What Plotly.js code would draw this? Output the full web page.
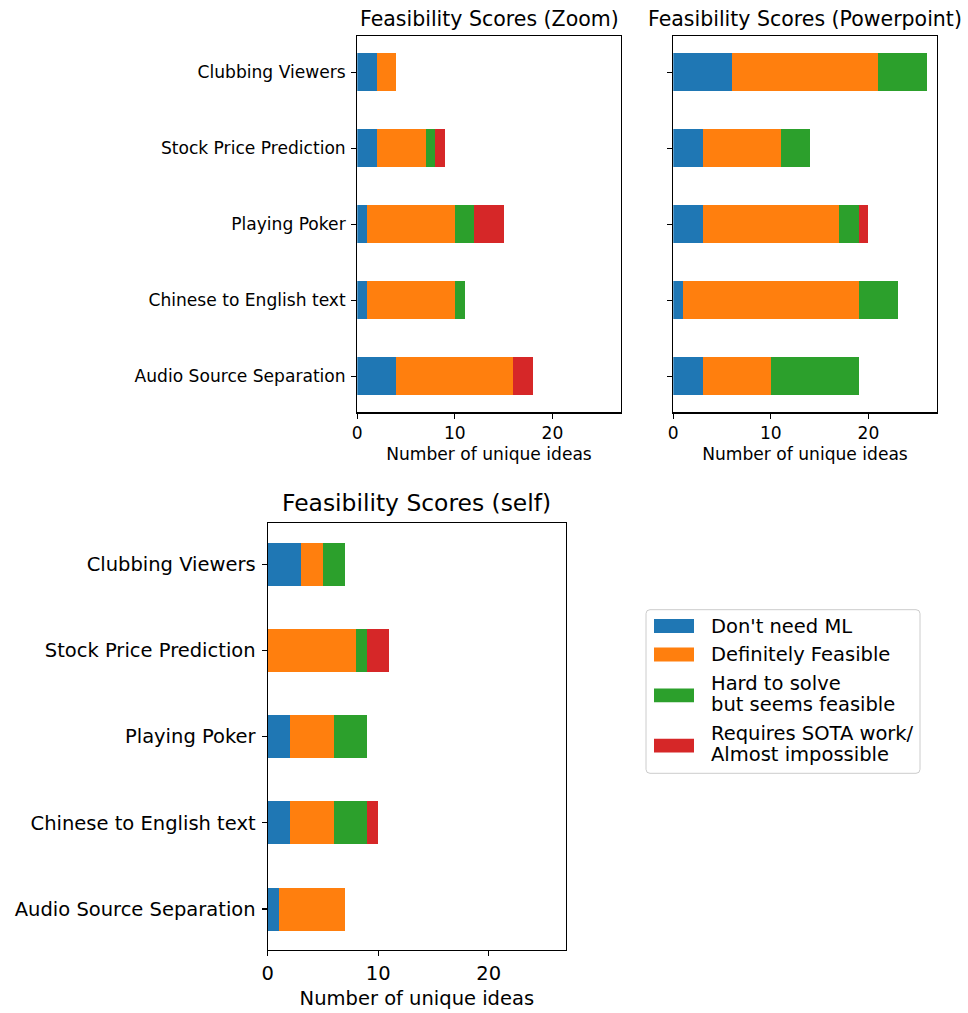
<!DOCTYPE html>
<html><head><meta charset="utf-8">
<script src="https://cdn.plot.ly/plotly-3.0.1.min.js"></script>
<style>html,body{margin:0;padding:0;background:#fff}#chart{width:968px;height:1013px}</style>
</head><body><div id="chart"></div>
<script>
// ---- data ----
const categories = ['Clubbing Viewers', 'Stock Price Prediction', 'Playing Poker', 'Chinese to English text', 'Audio Source Separation'];
const seriesNames = ["Don't need ML", 'Definitely Feasible', 'Hard to solve<br>but seems feasible', 'Requires SOTA work/<br>Almost impossible'];
const seriesColors = ['#1f77b4', '#ff7f0e', '#2ca02c', '#d62728'];
const panelTitles = ['Feasibility Scores (Zoom)', 'Feasibility Scores (Powerpoint)', 'Feasibility Scores (self)'];
const xTickVals = [0, 10, 20];
const xTitle = 'Number of unique ideas';

// values follow the order of `categories`
const zoomNoML     = [2, 2, 1, 1, 4];
const zoomFeasible = [2, 5, 9, 9, 12];
const zoomHard     = [0, 1, 2, 1, 0];
const zoomSOTA     = [0, 1, 3, 0, 2];

const pptNoML      = [6, 3, 3, 1, 3];
const pptFeasible  = [15, 8, 14, 18, 7];
const pptHard      = [5, 3, 2, 4, 9];
const pptSOTA      = [0, 0, 1, 0, 0];

const selfNoML     = [3, 0, 2, 2, 1];
const selfFeasible = [2, 8, 4, 4, 6];
const selfHard     = [2, 1, 3, 3, 0];
const selfSOTA     = [0, 2, 0, 1, 0];

// ---- build ----
const W = 968, H = 1013;
const FONT = 'DejaVu Sans, sans-serif';
const px = v => v / W;
const py = v => 1 - v / H;

const panels = [
  {series: [zoomNoML, zoomFeasible, zoomHard, zoomSOTA], xa: 'x', ya: 'y'},
  {series: [pptNoML, pptFeasible, pptHard, pptSOTA], xa: 'x2', ya: 'y2'},
  {series: [selfNoML, selfFeasible, selfHard, selfSOTA], xa: 'x3', ya: 'y3'}
];

const traces = [];
panels.forEach(p => {
  p.series.forEach((vals, s) => {
    traces.push({
      type: 'bar', orientation: 'h',
      y: categories, x: vals,
      xaxis: p.xa, yaxis: p.ya,
      name: seriesNames[s],
      marker: {color: seriesColors[s], line: {width: 0}},
      width: 0.5, showlegend: false, hoverinfo: 'x+y+name'
    });
  });
});

const catOrder = categories.slice().reverse();

function xAxis(domain, anchor, fs, standoff) {
  return {
    domain: domain, anchor: anchor, range: [0, 27], tickvals: xTickVals,
    ticks: 'outside', ticklen: 5, tickwidth: 1.2, tickcolor: '#000',
    showline: true, mirror: true, linecolor: '#000', linewidth: 1.2,
    showgrid: false, zeroline: false, fixedrange: true,
    tickfont: {family: FONT, size: fs, color: '#000'},
    title: {text: xTitle, font: {family: FONT, size: fs, color: '#000'}, standoff: standoff}
  };
}
function yAxis(domain, anchor, fs, showLabels) {
  return {
    domain: domain, anchor: anchor, type: 'category',
    categoryorder: 'array', categoryarray: catOrder,
    range: [-0.475, 4.475],
    ticks: 'outside', ticklen: 5, tickwidth: 1.2, tickcolor: '#000',
    showline: true, mirror: true, linecolor: '#000', linewidth: 1.2,
    showgrid: false, zeroline: false, fixedrange: true,
    showticklabels: showLabels, ticklabelstandoff: 2,
    tickfont: {family: FONT, size: fs, color: '#000'}
  };
}

const topY = [py(412.3), py(36)];
const botY = [py(950), py(523.3)];
const dX1 = [px(357.3), px(620.7)];
const dX2 = [px(673.3), px(936.7)];
const dX3 = [px(267.7), px(566)];

const annotations = [
  {text: panelTitles[0], x: (dX1[0] + dX1[1]) / 2, y: py(19), fs: 20.5},
  {text: panelTitles[1], x: (dX2[0] + dX2[1]) / 2, y: py(19), fs: 20.5},
  {text: panelTitles[2], x: (dX3[0] + dX3[1]) / 2, y: py(503.5), fs: 23.4}
].map(a => ({
  text: a.text, x: a.x, y: a.y, xref: 'paper', yref: 'paper',
  xanchor: 'center', yanchor: 'middle', showarrow: false,
  font: {family: FONT, size: a.fs, color: '#000'}
}));

// ---- legend (drawn manually to mimic the reference's wide swatches) ----
const shapes = [];
const LB = {l: 646, t: 609.7, r: 920, b: 773.3, rad: 4};
{
  const l = px(LB.l), r = px(LB.r), t = py(LB.t), b = py(LB.b);
  const rx = LB.rad / W, ry = LB.rad / H;
  const path = `M${l + rx},${t} L${r - rx},${t} Q${r},${t} ${r},${t - ry} L${r},${b + ry} Q${r},${b} ${r - rx},${b} L${l + rx},${b} Q${l},${b} ${l},${b + ry} L${l},${t - ry} Q${l},${t} ${l + rx},${t} Z`;
  shapes.push({type: 'path', xref: 'paper', yref: 'paper', path: path,
    line: {color: '#cccccc', width: 1}, fillcolor: 'rgba(255,255,255,0.8)', layer: 'above'});
}
const lineStep = 21.7, rowGap = 28.5;
let cy = 626;
seriesNames.forEach((name, i) => {
  const lines = name.split('<br>');
  const centers = lines.map((_, k) => cy + k * lineStep);
  const mid = centers.reduce((a, b) => a + b, 0) / centers.length + (lines.length > 1 ? 1.5 : 0);
  shapes.push({type: 'rect', xref: 'paper', yref: 'paper',
    x0: px(654), x1: px(694), y0: py(mid - 6.9), y1: py(mid + 6.9),
    fillcolor: seriesColors[i], line: {width: 0}, layer: 'above'});
  lines.forEach((ln, k) => {
    annotations.push({text: ln, x: px(709.3), y: py(centers[k]), xref: 'paper', yref: 'paper',
      xanchor: 'left', yanchor: 'middle', showarrow: false,
      font: {family: FONT, size: 19.5, color: '#000'}});
  });
  cy = centers[centers.length - 1] + rowGap;
});

const layout = {
  width: W, height: H, margin: {l: 0, r: 0, t: 0, b: 0},
  paper_bgcolor: '#fff', plot_bgcolor: '#fff',
  barmode: 'stack', bargap: 0.5, showlegend: false,
  font: {family: FONT, color: '#000'},
  xaxis: xAxis(dX1, 'y', 17.1, 6),
  yaxis: yAxis(topY, 'x', 17.1, true),
  xaxis2: xAxis(dX2, 'y2', 17.1, 6),
  yaxis2: yAxis(topY, 'x2', 17.1, false),
  xaxis3: xAxis(dX3, 'y3', 19.5, 7),
  yaxis3: yAxis(botY, 'x3', 19.5, true),
  annotations: annotations, shapes: shapes
};

Plotly.newPlot('chart', traces, layout, {staticPlot: true, displayModeBar: false});
</script>
</body></html>
